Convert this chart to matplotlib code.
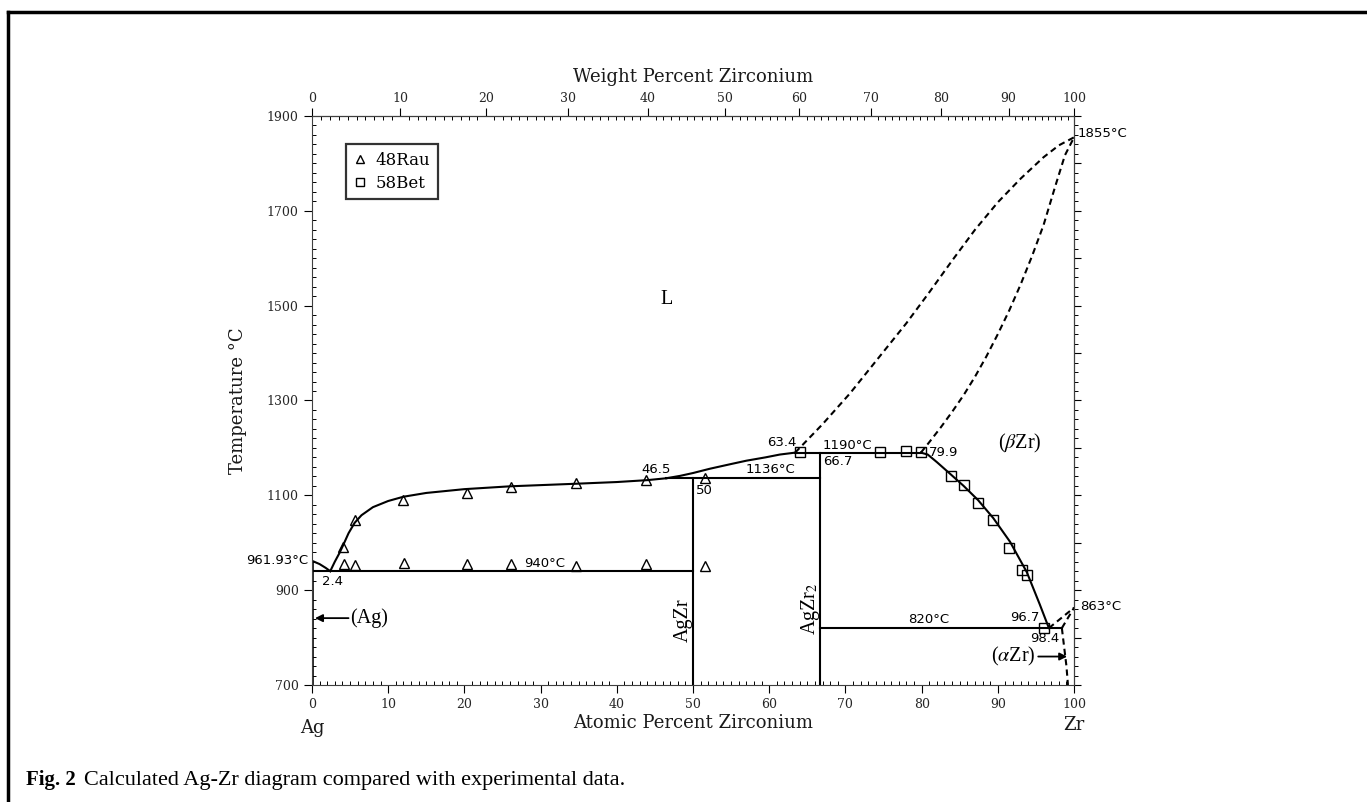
import matplotlib.pyplot as plt
from matplotlib.lines import Line2D
from matplotlib.ticker import MultipleLocator

plt.rcParams['mathtext.fontset'] = 'stix'

M_AG = 107.868
M_ZR = 91.224

# experimental data (at.% Zr, deg C)
rau_at = [4.1, 5.6, 12.0, 20.4, 26.1, 34.6, 43.8, 51.6,
          4.2, 5.7, 12.1, 20.4, 26.1, 34.6, 43.8, 51.6]
rau_t = [992, 1048, 1090, 1105, 1117, 1127, 1132, 1136,
         955, 953, 958, 955, 955, 950, 955, 951]
bet_at = [64.0, 74.5, 78.0, 79.9, 83.9, 85.5, 87.4, 89.4, 91.5, 93.2, 93.8, 96.1]
bet_t = [1192, 1192, 1193, 1192, 1141, 1122, 1083, 1048, 988, 942, 933, 821]

# calculated phase boundaries
liq_ag_x = [0, 1.0, 1.8, 2.4]
liq_ag_t = [961.93, 955, 947, 940]
liq_agzr_x = [2.4, 3.0, 3.6, 4.1, 4.8, 5.6, 6.5, 8.0, 10, 12, 15, 20, 26, 34, 40, 44, 46.5]
liq_agzr_t = [940, 960, 978, 995, 1020, 1042, 1058, 1075, 1088, 1097, 1105, 1113, 1119, 1124, 1128, 1132, 1136]
liq_agzr2_x = [46.5, 48.3, 50, 52.2, 55, 57, 59.5, 61.4, 63.4]
liq_agzr2_t = [1136, 1141, 1147, 1156, 1166, 1173, 1180, 1186, 1190]
solv_bzr_x = [79.9, 80.8, 82.0, 83.9, 85.5, 87.4, 89.4, 91.6, 93.8, 95.5, 96.7]
solv_bzr_t = [1190, 1186, 1170, 1143, 1120, 1090, 1052, 1002, 938, 870, 820]
liq_bzr_x = [63.4, 67, 70.6, 75, 78, 81, 84, 87, 90, 93, 96, 98, 100]
liq_bzr_t = [1190, 1250, 1315, 1403, 1463, 1528, 1595, 1660, 1718, 1768, 1813, 1838, 1855]
sol_bzr_x = [79.9, 81, 82.5, 84, 85.5, 87, 88.5, 90, 91.5, 93, 94.5, 96, 97.5, 98.8, 100]
sol_bzr_t = [1190, 1212, 1243, 1276, 1311, 1350, 1393, 1440, 1490, 1545, 1605, 1670, 1750, 1817, 1855]
azr_a_x = [96.7, 100]
azr_a_t = [820, 863]
azr_b_x = [98.4, 100]
azr_b_t = [820, 863]
azr_c_x = [98.4, 98.7, 99.0, 99.2]
azr_c_t = [820, 780, 740, 700]

# invariant lines: (x0, x1, T)
horiz = [(0, 50, 940), (46.5, 66.7, 1136), (63.4, 79.9, 1190), (66.7, 98.4, 820)]
# compounds: (x, Tmax)
compounds = [(50, 1136), (66.7, 1190)]

SANS = 'DejaVu Sans'
SERIF = 'Liberation Serif'
AXF = 'DejaVu Serif'


def at2wt(x):
    return 100 * x * M_ZR / (x * M_ZR + (100 - x) * M_AG)


def wt2at(w):
    return 100 * (w / M_ZR) / (w / M_ZR + (100 - w) / M_AG)


fig = plt.figure(figsize=(13.67, 8.02), dpi=100)
ax = fig.add_axes([0.2282, 0.1459, 0.5575, 0.7095])
ax.set_xlim(0, 100)
ax.set_ylim(700, 1900)

lw = 1.5
ax.plot([0, 0], [700, 961.93], color='k', lw=2.6, solid_capstyle='butt')
for xs, ts in [(liq_ag_x, liq_ag_t), (liq_agzr_x, liq_agzr_t),
               (liq_agzr2_x, liq_agzr2_t), (solv_bzr_x, solv_bzr_t)]:
    ax.plot(xs, ts, color='k', lw=lw)
for x0, x1, t in horiz:
    ax.plot([x0, x1], [t, t], color='k', lw=lw)
for x, t in compounds:
    ax.plot([x, x], [700, t], color='k', lw=lw)
for xs, ts in [(liq_bzr_x, liq_bzr_t), (sol_bzr_x, sol_bzr_t),
               (azr_a_x, azr_a_t), (azr_b_x, azr_b_t), (azr_c_x, azr_c_t)]:
    ax.plot(xs, ts, color='k', lw=lw, dashes=(3, 2))

ax.plot(rau_at, rau_t, ls='none', marker='^', ms=7, mfc='none', mec='k', mew=1.0)
ax.plot(bet_at, bet_t, ls='none', marker='s', ms=7, mfc='none', mec='k', mew=1.0)

# numeric annotations
sans_kw = dict(fontsize=9.5, family=SANS, color='k')
ax.text(-0.5, 963, '961.93°C', ha='right', va='center', **sans_kw)
ax.text(2.75, 918, '2.4', ha='center', va='center', **sans_kw)
ax.text(30.5, 957, '940°C', ha='center', va='center', **sans_kw)
ax.text(45.2, 1155, '46.5', ha='center', va='center', **sans_kw)
ax.text(50.4, 1111, '50', ha='left', va='center', **sans_kw)
ax.text(60.1, 1155, '1136°C', ha='center', va='center', **sans_kw)
ax.text(61.6, 1211, '63.4', ha='center', va='center', **sans_kw)
ax.text(70.2, 1206, '1190°C', ha='center', va='center', **sans_kw)
ax.text(67.1, 1172, '66.7', ha='left', va='center', **sans_kw)
ax.text(81.0, 1190, '79.9', ha='left', va='center', **sans_kw)
ax.text(80.9, 838, '820°C', ha='center', va='center', **sans_kw)
ax.text(93.6, 843, '96.7', ha='center', va='center', **sans_kw)
ax.text(96.2, 797, '98.4', ha='center', va='center', **sans_kw)
ax.text(100.8, 866, '863°C', ha='left', va='center', clip_on=False, **sans_kw)
ax.text(100.4, 1862, '1855°C', ha='left', va='center', clip_on=False, **sans_kw)

# phase labels
serif_kw = dict(fontsize=14.5, family=SERIF, color='k')
ax.text(46.5, 1512, 'L', ha='center', va='center', **serif_kw)
ax.text(92.9, 1210, r'($\beta$Zr)', ha='center', va='center', **serif_kw)
ax.text(5.0, 841, '(Ag)', ha='left', va='center', **serif_kw)
ax.text(95.0, 760, r'($\alpha$Zr)', ha='right', va='center', **serif_kw)
ax.text(48.7, 837, 'AgZr', ha='center', va='center', rotation=90, **serif_kw)
ax.text(65.4, 861, r'AgZr$_2$', ha='center', va='center', rotation=90, **serif_kw)
arrow_kw = dict(arrowstyle='-|>', lw=1.3, color='k', mutation_scale=11, shrinkA=0, shrinkB=0)
ax.annotate('', xy=(0.4, 841), xytext=(4.8, 841), arrowprops=arrow_kw)
ax.annotate('', xy=(99.1, 760), xytext=(95.3, 760), arrowprops=arrow_kw)

# legend
handles = [Line2D([], [], ls='none', marker='^', ms=5.5, mfc='none', mec='k', label='48Rau'),
           Line2D([], [], ls='none', marker='s', ms=5.5, mfc='none', mec='k', label='58Bet')]
leg = ax.legend(handles=handles, loc='upper left', bbox_to_anchor=(0.045, 0.95),
                frameon=True, fancybox=False, prop={'family': AXF, 'size': 12},
                handlelength=0.8, handletextpad=0.5, borderpad=0.45, labelspacing=0.35,
                borderaxespad=0)
leg.get_frame().set_edgecolor('k')
leg.get_frame().set_linewidth(1.6)

# axes, ticks
for sp in ax.spines.values():
    sp.set_linewidth(0.8)
    sp.set_color('0.25')
ax.set_xticks(range(0, 101, 10))
ax.set_yticks(range(700, 1901, 200))
ax.xaxis.set_minor_locator(MultipleLocator(1))
ax.yaxis.set_minor_locator(MultipleLocator(20))
ax.tick_params(which='major', direction='out', length=6, width=0.8, labelsize=9)
ax.tick_params(which='minor', direction='in', length=3, width=0.7)
for lab in ax.get_xticklabels() + ax.get_yticklabels():
    lab.set_family(AXF)
    lab.set_color('0.15')

top = ax.secondary_xaxis('top', functions=(at2wt, wt2at))
top.set_xticks(range(0, 101, 10))
top.xaxis.set_minor_locator(MultipleLocator(1))
top.tick_params(which='major', direction='out', length=6, width=0.8, labelsize=9, pad=2)
top.tick_params(which='minor', direction='in', length=3, width=0.7)
for lab in top.get_xticklabels():
    lab.set_family(AXF)
    lab.set_color('0.15')

right = ax.secondary_yaxis('right')
right.set_yticks(range(700, 1901, 100))
right.yaxis.set_minor_locator(MultipleLocator(20))
right.tick_params(which='major', direction='out', length=5, width=0.8, labelright=False)
right.tick_params(which='minor', direction='out', length=3, width=0.7)

title_kw = dict(family=AXF, fontsize=13, color='0.1')
ax.text(0.5, 1.068, 'Weight Percent Zirconium', transform=ax.transAxes,
        ha='center', va='center', **title_kw)
ax.text(0.5, -0.067, 'Atomic Percent Zirconium', transform=ax.transAxes,
        ha='center', va='center', **title_kw)
ax.text(-0.097, 0.5, 'Temperature °C', transform=ax.transAxes, rotation=90,
        ha='center', va='center', **title_kw)
ax.text(0, -0.076, 'Ag', transform=ax.get_xaxis_transform(), ha='center', va='center', **title_kw)
ax.text(100, -0.07, 'Zr', transform=ax.get_xaxis_transform(), ha='center', va='center', **title_kw)

# page frame
fig.add_artist(Line2D([0.006, 1.0], [0.985, 0.985], color='k', lw=2.5, transform=fig.transFigure))
fig.add_artist(Line2D([0.006, 0.006], [0.0, 0.985], color='k', lw=2.5, transform=fig.transFigure))

# caption
cap_y = 0.027
t1 = fig.text(0.019, cap_y, 'Fig. 2', family=SERIF, weight='bold', fontsize=15, va='center')
fig.canvas.draw()
bb = t1.get_window_extent(renderer=fig.canvas.get_renderer())
x2 = (bb.x1 + 8) / fig.bbox.width
fig.text(x2, cap_y, 'Calculated Ag-Zr diagram compared with experimental data.',
         family=SERIF, fontsize=16, va='center')

fig.savefig('out.png', dpi=100)
